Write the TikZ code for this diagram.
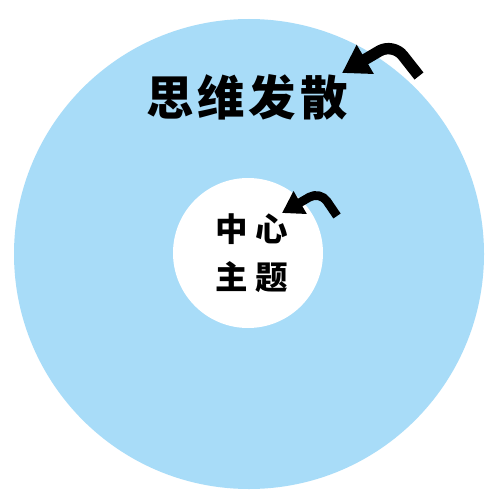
\documentclass[tikz,border=0pt]{standalone}
\usepackage{fontspec}
\usepackage{tikz}
\usetikzlibrary{arrows.meta,positioning}
\newfontfamily\cjk{Noto Sans CJK SC}
\newfontfamily\cjkheavy{Noto Sans CJK SC Black}
\definecolor{skyring}{RGB}{168,220,248}
\tikzset{
  pointer/.style={line width=6.5pt,rounded corners=9pt,line join=round,
    -{Triangle[length=0.54cm,width=0.64cm]}},
  smallpointer/.style={line width=5pt,rounded corners=7pt,line join=round,
    -{Triangle[length=0.42cm,width=0.5cm]}},
  bigtitle/.style={font=\cjkheavy\fontsize{27}{32}\selectfont\addfontfeatures{LetterSpace=8}},
  coretitle/.style={font=\cjk\bfseries\fontsize{18.5}{27}\selectfont\addfontfeatures{LetterSpace=24},align=center}
}

\begin{document}
\begin{tikzpicture}[x=0.02cm,y=-0.02cm]
	\useasboundingbox[fill=white] (0,0) rectangle (500,500);
	% rings
	\fill[skyring] (249,254) circle[radius=235];
	\fill[white] (248,253) circle[radius=75];

	% labels
	\node[bigtitle] (spread) at (247,97) {思维发散};
	\node[coretitle] (core) at (252,253) {中心\\主题};

	% pointers
	\coordinate (spread_end) at (419,76);
	\coordinate (spread_bend) at (393,43);
	\coordinate (spread_tip) at (342,73);
	\draw[pointer] (spread_end) -- (spread_bend) -- (spread_tip);

	\coordinate (core_end) at (337,216);
	\coordinate (core_bend) at (320,191);
	\coordinate (core_tip) at (282,213);
	\draw[smallpointer] (core_end) -- (core_bend) -- (core_tip);
\end{tikzpicture}
\end{document}
